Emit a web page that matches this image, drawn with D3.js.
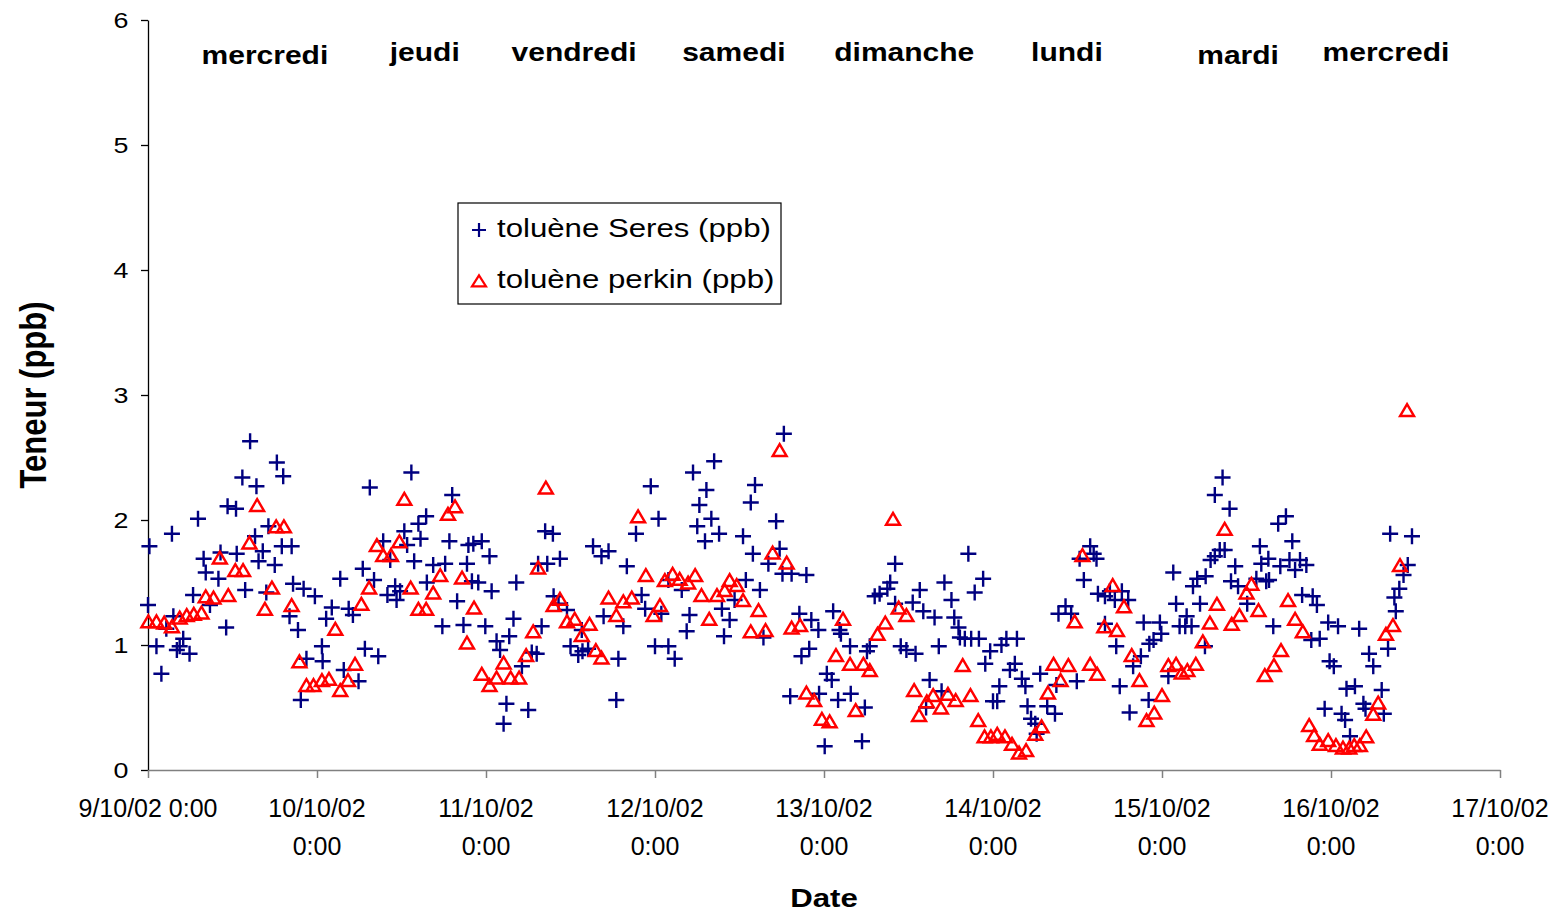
<!DOCTYPE html>
<html>
<head>
<meta charset="utf-8">
<script src="https://cdn.jsdelivr.net/npm/d3@7"></script>
<style>
  body { margin: 0; background: #fff; }
  svg { display: block; font-family: 'Liberation Sans', Arial, sans-serif; }
</style>
</head>
<body>
<svg class="chartSvg"></svg>
<script>
// hours since 9/10/02 0:00, values in ppb
const seresHours = [0.0, 0.2, 1.2, 1.9, 2.6, 3.4, 3.6, 4.1, 4.5, 5.0, 5.9, 6.4, 7.1, 7.9, 8.2, 8.8, 10.0, 10.3, 11.1, 11.3,
  12.5, 12.6, 13.4, 13.8, 14.5, 15.2, 15.4, 15.7, 16.3, 16.8, 17.1, 18.0, 18.3, 19.0, 19.2, 20.1, 20.4, 20.6, 21.3, 21.7,
  22.1, 22.5, 23.7, 24.7, 24.8, 25.3, 26.1, 27.3, 27.8, 28.5, 29.1, 29.9, 30.5, 30.8, 31.5, 32.1, 32.7, 33.4, 34.0, 34.4,
  35.1, 35.3, 35.8, 36.4, 36.8, 37.4, 37.8, 38.4, 38.7, 39.5, 39.6, 40.5, 41.8, 42.2, 42.8, 43.2, 43.9, 44.8, 45.3, 45.5,
  46.0, 46.2, 46.9, 47.4, 47.9, 48.5, 48.8, 49.5, 50.0, 50.5, 50.9, 51.3, 51.9, 52.3, 53.1, 54.0, 54.5, 55.2, 55.4, 55.9,
  56.4, 56.7, 57.5, 57.6, 58.3, 58.5, 59.5, 60.0, 61.1, 61.6, 61.7, 62.5, 63.2, 64.4, 64.7, 65.4, 66.5, 66.8, 67.5, 68.0,
  69.3, 70.1, 70.6, 71.4, 72.0, 72.5, 72.9, 73.9, 73.9, 74.8, 75.8, 76.5, 76.9, 77.4, 78.0, 78.3, 79.1, 79.3, 80.0, 80.4,
  81.1, 81.5, 81.8, 82.6, 83.3, 84.5, 84.9, 85.6, 85.9, 86.2, 86.9, 87.4, 88.1, 89.2, 89.7, 90.1, 90.3, 91.2, 91.4, 92.5,
  92.8, 93.5, 93.9, 94.2, 95.2, 95.3, 96.1, 96.4, 97.1, 97.3, 98.0, 98.2, 98.4, 99.7, 99.8, 101.4, 101.8, 102.1, 102.5, 103.2,
  103.9, 105.0, 105.4, 106.1, 106.1, 106.9, 107.7, 108.6, 109.0, 109.6, 110.1, 110.5, 111.0, 111.7, 112.3, 112.7, 113.1, 114.1, 114.5, 115.1,
  115.3, 116.0, 116.5, 116.9, 117.4, 118.0, 118.6, 118.9, 119.6, 120.0, 120.6, 120.9, 121.2, 121.9, 122.4, 123.1, 123.4, 124.1, 124.6, 124.9,
  125.4, 126.0, 126.2, 126.7, 127.7, 128.8, 129.0, 129.3, 130.3, 131.1, 131.9, 132.3, 132.9, 133.8, 134.3, 134.7, 134.9, 135.9, 135.9, 136.6,
  137.3, 137.5, 138.0, 138.3, 139.2, 139.4, 139.9, 141.0, 141.4, 142.1, 142.2, 142.8, 143.7, 143.9, 144.9, 145.6, 146.0, 146.5, 147.3, 147.5,
  148.2, 148.4, 149.0, 149.4, 150.1, 150.2, 150.9, 151.5, 151.5, 152.2, 152.6, 152.9, 153.6, 153.8, 154.4, 154.8, 156.1, 157.4, 157.9, 158.1,
  158.8, 159.1, 159.2, 159.8, 160.5, 160.8, 161.6, 162.1, 162.5, 162.9, 163.6, 163.9, 164.5, 165.2, 165.4, 166.0, 166.4, 167.1, 167.6, 167.8,
  168.4, 169.0, 169.5, 170.0, 170.2, 170.7, 171.4, 172.0, 172.6, 172.9, 173.4, 174.0, 175.2, 175.5, 176.1, 176.4, 177.0, 177.2, 177.7, 178.3,
  178.9, 179.5];
const seresValues = [1.32, 1.79, 0.99, 0.77, 1.13, 1.89, 1.23, 0.96, 0.99, 1.05, 0.93, 1.40, 2.01, 1.69, 1.58, 1.32, 1.53, 1.74, 1.14, 2.11,
  2.09, 1.73, 2.34, 1.44, 2.63, 1.87, 2.27, 1.67, 1.75, 1.42, 1.95, 1.64, 2.46, 1.79, 2.35, 1.23, 1.79, 1.49, 1.12, 0.56,
  1.45, 0.89, 1.39, 0.99, 0.87, 1.21, 1.30, 1.53, 0.80, 1.29, 1.24, 0.71, 1.61, 0.97, 2.26, 1.52, 0.91, 1.83, 1.40, 1.68,
  1.47, 1.36, 1.43, 1.91, 1.80, 2.38, 1.67, 1.97, 1.85, 2.03, 1.50, 1.64, 1.15, 1.65, 1.83, 2.20, 1.35, 1.16, 1.65, 1.80,
  1.51, 1.81, 1.50, 1.83, 1.15, 1.71, 1.43, 1.03, 0.96, 0.37, 0.53, 1.07, 1.21, 1.50, 0.83, 0.48, 0.94, 0.93, 1.65, 1.15,
  1.91, 1.65, 1.89, 1.39, 1.33, 1.69, 1.28, 0.99, 0.92, 1.12, 0.95, 0.97, 1.79, 1.71, 1.23, 1.75, 0.56, 0.89, 1.15, 1.63,
  1.89, 1.40, 1.29, 2.27, 0.99, 2.01, 1.25, 0.99, 1.52, 0.89, 1.44, 1.11, 1.24, 2.38, 1.95, 2.12, 1.83, 2.24, 2.01, 2.47,
  1.89, 1.29, 1.07, 1.20, 1.36, 1.87, 1.52, 2.14, 1.73, 2.28, 1.44, 1.06, 1.65, 1.99, 1.77, 1.57, 2.69, 0.59, 1.57, 1.25,
  0.91, 1.56, 0.97, 1.20, 1.12, 0.61, 0.19, 0.77, 0.72, 1.27, 0.56, 1.12, 1.09, 0.99, 0.61, 0.23, 0.50, 0.95, 0.99, 1.39,
  1.41, 1.45, 1.50, 1.65, 1.33, 0.99, 0.96, 1.34, 0.93, 1.44, 1.27, 0.50, 0.72, 1.22, 0.99, 0.63, 1.50, 1.36, 1.22, 1.14,
  1.06, 1.05, 1.73, 1.05, 1.42, 1.05, 1.53, 0.85, 0.95, 0.55, 0.55, 0.67, 1.00, 1.05, 0.80, 0.85, 1.05, 0.73, 0.67, 0.51,
  0.41, 0.37, 0.29, 0.77, 0.51, 0.45, 0.68, 1.25, 1.31, 1.25, 0.71, 1.69, 1.52, 1.79, 1.73, 1.69, 1.41, 1.39, 1.17, 1.43,
  1.36, 0.99, 0.67, 1.43, 1.36, 0.46, 0.83, 0.91, 1.18, 0.56, 1.01, 1.04, 1.18, 1.09, 0.75, 1.58, 1.33, 1.15, 1.15, 1.23,
  1.15, 1.47, 1.53, 1.33, 0.99, 1.55, 1.68, 1.71, 2.20, 1.76, 2.34, 1.76, 2.09, 1.51, 1.63, 1.47, 1.33, 1.53, 1.79, 1.65,
  1.51, 1.69, 1.52, 1.15, 1.97, 1.63, 2.03, 1.68, 1.83, 1.60, 1.68, 1.40, 1.64, 1.04, 1.39, 1.32, 1.05, 0.49, 1.18, 0.87,
  0.83, 1.15, 0.45, 0.40, 0.65, 0.27, 0.67, 1.13, 0.53, 0.49, 0.93, 0.83, 0.64, 0.45, 0.97, 1.89, 1.38, 1.27, 1.45, 1.56,
  1.64, 1.87];

const perkinHours = [0.05, 1.2, 2.3, 3.4, 4.5, 5.5, 6.5, 7.6, 8.2, 9.3, 10.2, 11.4, 12.4, 13.5, 14.4, 15.5, 16.6, 17.6, 18.2, 19.3,
  20.4, 21.5, 22.5, 23.5, 24.7, 25.7, 26.6, 27.3, 28.4, 29.4, 30.3, 31.4, 32.5, 33.4, 34.5, 35.7, 36.4, 37.3, 38.4, 39.5,
  40.5, 41.5, 42.6, 43.6, 44.6, 45.3, 46.3, 47.4, 48.5, 49.5, 50.5, 51.5, 52.7, 53.7, 54.7, 55.4, 56.5, 57.6, 58.5, 59.5,
  60.6, 61.6, 62.7, 63.6, 64.4, 65.4, 66.5, 67.5, 68.7, 69.6, 70.7, 71.8, 72.7, 73.4, 74.5, 75.5, 76.7, 77.7, 78.6, 79.7,
  80.8, 81.9, 82.6, 83.6, 84.5, 85.6, 86.7, 87.7, 88.7, 89.7, 90.7, 91.4, 92.6, 93.5, 94.6, 95.7, 96.8, 97.7, 98.7, 99.7,
  100.5, 101.6, 102.5, 103.6, 104.7, 105.8, 106.6, 107.7, 108.8, 109.5, 110.6, 111.5, 112.6, 113.6, 114.7, 115.7, 116.8, 117.9, 118.8, 119.7,
  120.6, 121.7, 122.7, 123.7, 124.7, 126.0, 126.9, 127.8, 128.6, 129.6, 130.7, 131.6, 132.7, 133.8, 134.8, 135.8, 137.0, 137.6, 138.6, 139.7,
  140.8, 141.8, 142.9, 144.0, 144.9, 146.0, 146.8, 147.6, 148.8, 149.8, 150.8, 151.8, 152.9, 153.9, 155.0, 156.0, 156.7, 157.7, 158.6, 159.9,
  160.9, 161.9, 162.9, 164.0, 164.9, 165.6, 166.4, 167.6, 168.7, 169.7, 170.6, 171.3, 172.1, 173.0, 174.0, 174.7, 175.8, 176.8, 177.8, 178.8];
const perkinValues = [1.18, 1.18, 1.17, 1.14, 1.21, 1.23, 1.24, 1.25, 1.38, 1.37, 1.69, 1.39, 1.59, 1.59, 1.81, 2.11, 1.28, 1.45, 1.94, 1.94,
  1.31, 0.86, 0.67, 0.67, 0.71, 0.72, 1.12, 0.63, 0.71, 0.84, 1.32, 1.45, 1.79, 1.71, 1.71, 1.82, 2.16, 1.45, 1.28, 1.28,
  1.41, 1.55, 2.04, 2.10, 1.53, 1.01, 1.29, 0.76, 0.67, 0.73, 0.85, 0.73, 0.73, 0.91, 1.10, 1.61, 2.25, 1.31, 1.36, 1.18,
  1.20, 1.07, 1.16, 0.95, 0.89, 1.37, 1.23, 1.34, 1.37, 2.02, 1.55, 1.23, 1.31, 1.51, 1.56, 1.52, 1.49, 1.55, 1.39, 1.20,
  1.39, 1.43, 1.51, 1.47, 1.35, 1.10, 1.27, 1.11, 1.73, 2.55, 1.65, 1.13, 1.15, 0.61, 0.55, 0.40, 0.38, 0.91, 1.20, 0.84,
  0.47, 0.84, 0.79, 1.08, 1.17, 2.00, 1.29, 1.23, 0.63, 0.43, 0.54, 0.59, 0.49, 0.60, 0.55, 0.83, 0.59, 0.39, 0.26, 0.26,
  0.28, 0.26, 0.20, 0.13, 0.15, 0.28, 0.34, 0.61, 0.84, 0.71, 0.83, 1.18, 1.71, 0.84, 0.76, 1.14, 1.47, 1.11, 1.30, 0.91,
  0.71, 0.39, 0.45, 0.59, 0.83, 0.84, 0.77, 0.79, 0.84, 1.02, 1.17, 1.32, 1.92, 1.16, 1.23, 1.41, 1.48, 1.27, 0.75, 0.83,
  0.95, 1.35, 1.20, 1.10, 0.35, 0.27, 0.20, 0.23, 0.19, 0.17, 0.17, 0.19, 0.19, 0.26, 0.44, 0.53, 1.08, 1.15, 1.63, 2.87];

const dayTicks = [0, 24, 48, 72, 96, 120, 144, 168, 192];
const tickDates = ['9/10/02', '10/10/02', '11/10/02', '12/10/02', '13/10/02', '14/10/02', '15/10/02', '16/10/02', '17/10/02'];
const dayNames = ['mercredi', 'jeudi', 'vendredi', 'samedi', 'dimanche', 'lundi', 'mardi', 'mercredi'];
const dayNameHours = [16.6, 39.3, 60.5, 83.2, 107.4, 130.5, 154.8, 175.8];
const yTicks = [0, 1, 2, 3, 4, 5, 6];

const width = 1561;
const height = 915;
const blue = '#000080';
const red = '#ff0000';

const svg = d3.select('.chartSvg').attr('width', width).attr('height', height);

const x = d3.scaleLinear().domain([0, 192]).range([148, 1500]);
const y = d3.scaleLinear().domain([0, 6]).range([770, 20]);

const crossPath = (s) => `M${-s},0H${s}M0,${-s}V${s}`;
const triPath = (w, h) => `M0,${-h * 0.6}L${w / 2},${h * 0.4}L${-w / 2},${h * 0.4}Z`;

// y axis
const yAxis = svg.append('g')
  .attr('transform', `translate(${x(0)},0)`)
  .call(d3.axisLeft(y).tickValues(yTicks).tickFormat(d3.format('d')).tickSize(7).tickSizeOuter(0));
yAxis.select('.domain').attr('stroke', '#000').attr('stroke-width', 1.3);
yAxis.selectAll('.tick line').attr('stroke', '#000').attr('stroke-width', 1.3);
yAxis.selectAll('.tick text')
  .attr('font-size', 22)
  .attr('fill', '#000')
  .attr('font-family', "'Liberation Sans', Arial, sans-serif")
  .attr('transform', 'scale(1.22,1)')
  .attr('x', -16);

// x axis
const xAxis = svg.append('g')
  .attr('transform', `translate(0,${y(0)})`)
  .call(d3.axisBottom(x).tickValues(dayTicks).tickSize(8).tickSizeOuter(0).tickFormat(''));
xAxis.select('.domain').attr('stroke', '#808080').attr('stroke-width', 1.5);
xAxis.selectAll('.tick line').attr('stroke', '#808080').attr('stroke-width', 1.5);

// tick labels on two lines, first one on a single line
dayTicks.forEach((h, i) => {
  const t = svg.append('text')
    .attr('font-size', 25)
    .attr('text-anchor', 'middle')
    .attr('fill', '#000');
  if (i === 0) {
    t.attr('x', x(h)).attr('y', 817).text(tickDates[i] + ' 0:00');
  } else {
    t.append('tspan').attr('x', x(h)).attr('y', 817).text(tickDates[i]);
    t.append('tspan').attr('x', x(h)).attr('y', 855).text('0:00');
  }
});

// axis titles
svg.append('text')
  .attr('transform', `translate(${x(96)},898) scale(1.2,1)`)
  .attr('text-anchor', 'middle')
  .attr('dy', '0.35em')
  .attr('font-size', 26)
  .attr('font-weight', 'bold')
  .text('Date');

svg.append('text')
  .attr('transform', `translate(33,${y(3.0)}) scale(1.2,1) rotate(-90)`)
  .attr('text-anchor', 'middle')
  .attr('dy', '0.35em')
  .attr('font-size', 31)
  .attr('font-weight', 'bold')
  .text('Teneur (ppb)');

// day names along the top
svg.selectAll('.dayName')
  .data(dayNames)
  .enter()
  .append('text')
  .classed('dayName', true)
  .attr('transform', (d, i) => `translate(${x(dayNameHours[i])},${i === 0 || i === 6 ? 55 : 52}) scale(1.2,1)`)
  .attr('text-anchor', 'middle')
  .attr('dy', '0.35em')
  .attr('font-size', 25)
  .attr('font-weight', 'bold')
  .text((d) => d);

// toluène Seres crosses
svg.append('g')
  .selectAll('path')
  .data(seresHours.map((h, i) => [h, seresValues[i]]))
  .enter()
  .append('path')
  .attr('transform', (d) => `translate(${x(d[0])},${y(d[1])})`)
  .attr('d', crossPath(8))
  .attr('stroke', blue)
  .attr('stroke-width', 2.4)
  .attr('fill', 'none');

// toluène perkin triangles
svg.append('g')
  .selectAll('path')
  .data(perkinHours.map((h, i) => [h, perkinValues[i]]))
  .enter()
  .append('path')
  .attr('transform', (d) => `translate(${x(d[0])},${y(d[1])})`)
  .attr('d', triPath(14, 12))
  .attr('stroke', red)
  .attr('stroke-width', 2.4)
  .attr('stroke-linejoin', 'miter')
  .attr('fill', 'none');

// legend
const legend = svg.append('g').attr('transform', 'translate(458,203)');
legend.append('rect')
  .attr('width', 323)
  .attr('height', 101)
  .attr('fill', '#fff')
  .attr('stroke', '#000')
  .attr('stroke-width', 1.2);
legend.append('path')
  .attr('transform', 'translate(21,27)')
  .attr('d', crossPath(7))
  .attr('stroke', blue)
  .attr('stroke-width', 2.2);
legend.append('path')
  .attr('transform', 'translate(21,79)')
  .attr('d', triPath(14, 11))
  .attr('stroke', red)
  .attr('stroke-width', 2.2)
  .attr('fill', 'none');
const legendLabels = ['toluène Seres (ppb)', 'toluène perkin (ppb)'];
legendLabels.forEach((label, i) => {
  legend.append('text')
    .attr('transform', `translate(39,${25 + i * 51}) scale(1.2,1)`)
    .attr('dy', '0.35em')
    .attr('font-size', 26)
    .text(label);
});
</script>
</body>
</html>
